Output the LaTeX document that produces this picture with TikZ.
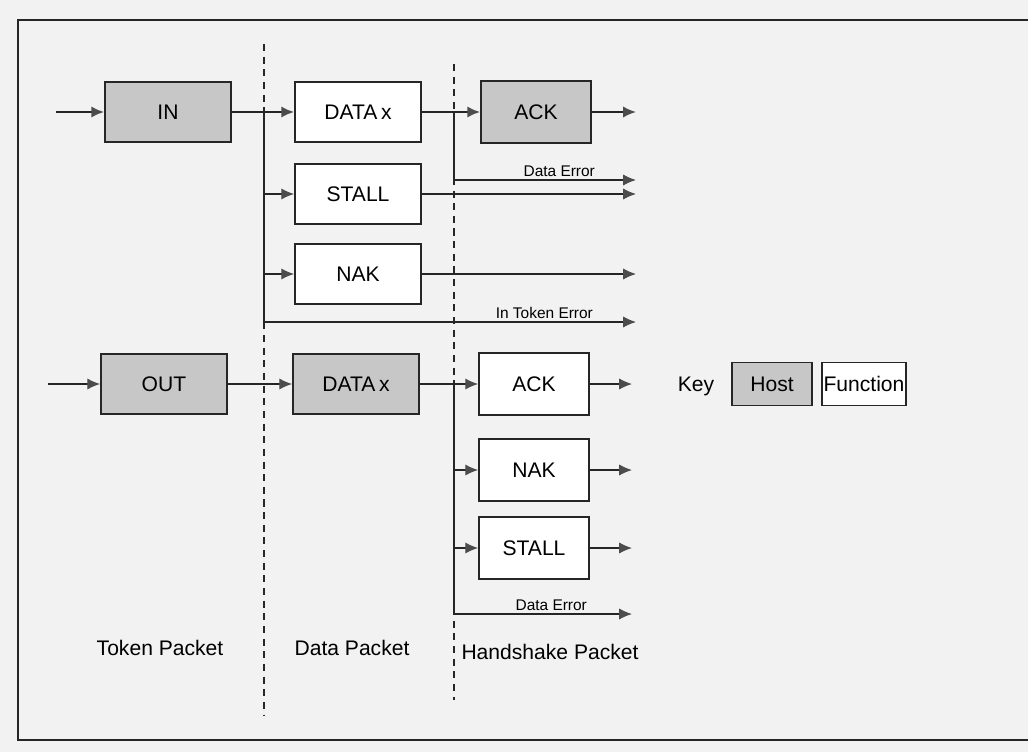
\documentclass[tikz,border=0pt]{standalone}
\usepackage{fontspec}
\setmainfont{Liberation Sans}
\usetikzlibrary{arrows.meta, positioning, calc}

\begin{document}
\begin{tikzpicture}[
    hostbox/.style={rectangle, draw=black!85, line width=1.2pt, fill=black!22, minimum height=1.5cm,
                    minimum width=3.15cm, font=\fontsize{15}{17}\selectfont},
    funcbox/.style={hostbox, fill=white},
    hsbox/.style={funcbox, minimum width=2.75cm, minimum height=1.55cm},
    keybox/.style={hostbox, minimum width=2.0cm, minimum height=1.08cm, inner sep=1pt},
    arrow/.style={-{Latex[length=3.2mm, width=2.8mm, color=black!70]}, line width=0.9pt, draw=black!85},
    mainarrow/.style={arrow, line width=1.4pt},
    divider/.style={draw=black!85, dash pattern=on 5pt off 4pt, line width=1pt},
    errlabel/.style={font=\fontsize{11}{13}\selectfont, inner sep=2pt},
    stagelabel/.style={font=\fontsize{15}{17}\selectfont}
]
    % Page and frame
    \path[use as bounding box, fill=black!5] (0,0) rectangle (25.7,-18.8);
    \draw[line width=1.3pt, black!85] (25.7,-0.5) -| (0.45,-18.5) -- (25.7,-18.5);

    % Stage dividers
    \draw[divider] (6.6,-1.1) -- (6.6,-17.9);
    \draw[divider] (11.35,-1.6) -- (11.35,-17.5);

    % IN transaction
    \node[hostbox] (in) at (4.2,-2.8) {IN};
    \node[funcbox] (datain) at (8.95,-2.8) {DATA\,x};
    \node[funcbox] (stallin) at (8.95,-4.85) {STALL};
    \node[funcbox] (nakin) at (8.95,-6.85) {NAK};
    \node[hostbox, minimum width=2.75cm, minimum height=1.55cm] (ackin) at (13.4,-2.8) {ACK};

    \coordinate (inStart) at (1.4,-2.8);
    \coordinate (inBr) at (6.6,-2.8);
    \coordinate (ackBr) at (11.35,-2.8);
    \coordinate (datErr) at (15.9,-4.5);
    \coordinate (tokErr) at (15.9,-8.05);

    \draw[mainarrow] (inStart) -- (in);
    \draw[mainarrow] (in) -- (datain);
    \draw[arrow] (inBr |- stallin.west) -- (stallin.west);
    \draw[arrow] (inBr |- nakin.west) -- (nakin.west);
    \draw[arrow] (inBr) |- (tokErr);
    \draw[mainarrow] (datain) -- (ackin);
    \draw[arrow] (ackBr) |- (datErr);
    \draw[mainarrow] (ackin.east) -- (ackin.east -| tokErr);
    \draw[arrow] (stallin.east) -- (stallin.east -| tokErr);
    \draw[arrow] (nakin.east) -- (nakin.east -| tokErr);

    \node[errlabel, above left=0pt and 0.95cm of datErr] (datErrLbl) {Data Error};
    \node[errlabel, above left=0pt and 1.0cm of tokErr] (tokErrLbl) {In Token Error};

    % OUT transaction
    \node[hostbox] (out) at (4.1,-9.6) {OUT};
    \node[hostbox] (dataout) at (8.9,-9.6) {DATA\,x};
    \node[hsbox] (ackout) at (13.35,-9.6) {ACK};
    \node[hsbox] (nakout) at (13.35,-11.75) {NAK};
    \node[hsbox] (stallout) at (13.35,-13.7) {STALL};

    \coordinate (outStart) at (1.2,-9.6);
    \coordinate (outBr) at (11.35,-9.6);
    \coordinate (datErr2) at (15.8,-15.35);

    \draw[arrow] (outStart) -- (out);
    \draw[arrow] (out) -- (dataout);
    \draw[arrow] (dataout) -- (ackout);
    \draw[arrow] (outBr |- nakout.west) -- (nakout.west);
    \draw[arrow] (outBr |- stallout.west) -- (stallout.west);
    \draw[arrow] (outBr) |- (datErr2);
    \draw[arrow] (ackout.east) -- (ackout.east -| datErr2);
    \draw[arrow] (nakout.east) -- (nakout.east -| datErr2);
    \draw[arrow] (stallout.east) -- (stallout.east -| datErr2);

    \node[errlabel, above left=0pt and 1.05cm of datErr2] (datErr2Lbl) {Data Error};

    % Stage names
    \node[stagelabel] (tokenLbl) at (4.0,-16.2) {Token Packet};
    \node[stagelabel] (dataLbl) at (8.8,-16.2) {Data Packet};
    \node[stagelabel] (hsLbl) at (13.75,-16.3) {Handshake Packet};

    % Key
    \node[stagelabel] (key) at (17.4,-9.65) {Key};
    \node[keybox] (host) at (19.3,-9.6) {Host};
    \node[keybox, fill=white, minimum width=2.1cm] (func) at (21.6,-9.6) {Function};
\end{tikzpicture}
\end{document}
